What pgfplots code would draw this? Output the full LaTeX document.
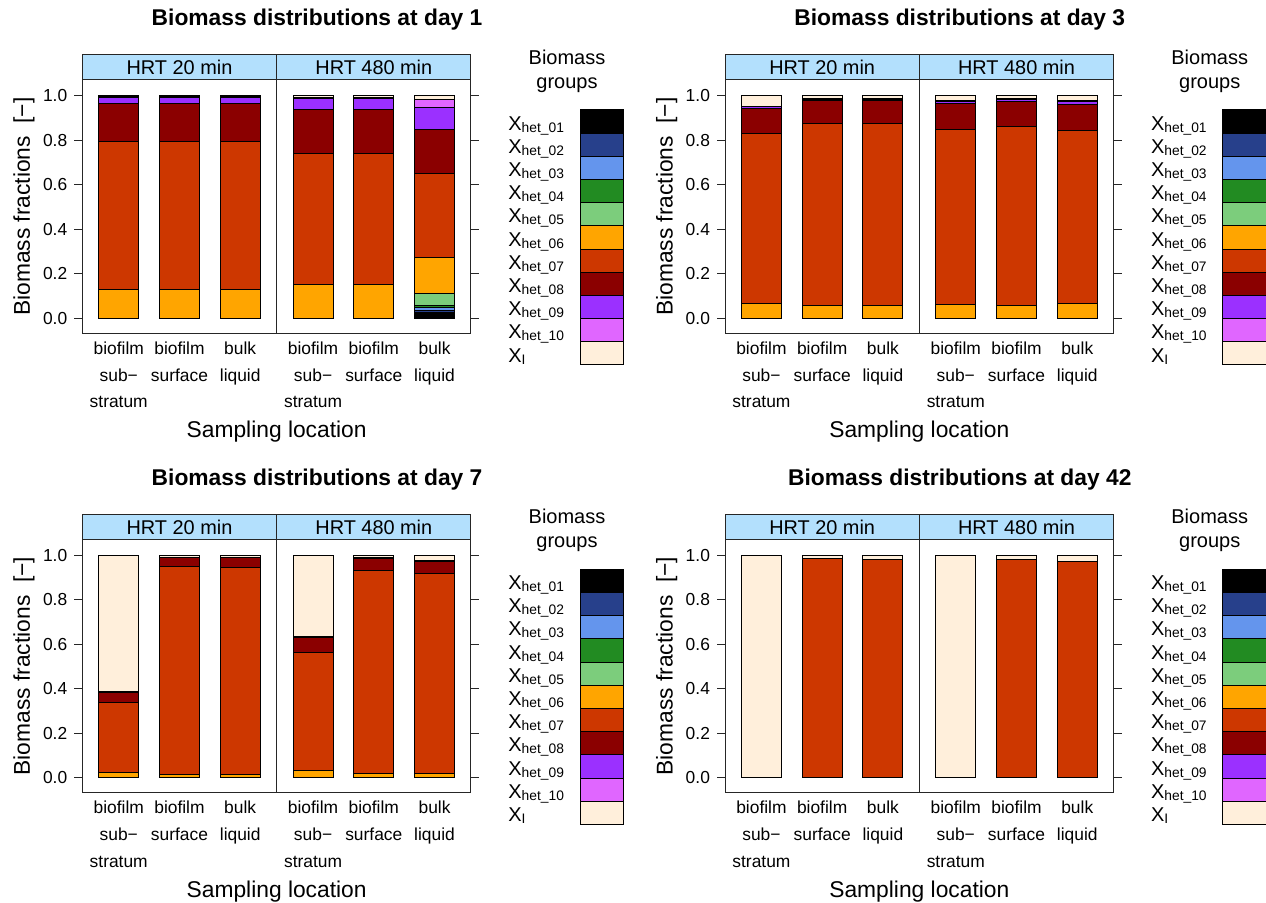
\documentclass[border=0pt]{standalone}
\usepackage{fontspec}
\setmainfont{Liberation Sans}
\usepackage{pgfplots}
\usepackage{pgfplotstable}
\pgfplotsset{compat=1.18}

\definecolor{c01}{RGB}{0,0,0}
\definecolor{c02}{RGB}{39,64,139}
\definecolor{c03}{RGB}{100,149,237}
\definecolor{c04}{RGB}{34,139,34}
\definecolor{c05}{RGB}{124,205,124}
\definecolor{c06}{RGB}{255,165,0}
\definecolor{c07}{RGB}{205,55,0}
\definecolor{c08}{RGB}{139,0,0}
\definecolor{c09}{RGB}{155,48,255}
\definecolor{c10}{RGB}{224,102,255}
\definecolor{cXI}{RGB}{255,239,219}
\definecolor{stripc}{RGB}{179,224,253}

\pgfplotstableread{
x   h01   h02   h03   h04   h05   h06   h07   h08   h09   h10   XI
1   0     0     0     0     0     0.128 0.667 0.170 0.027 0.004 0.004
2   0     0     0     0     0     0.128 0.667 0.170 0.027 0.004 0.004
3   0     0     0     0     0     0.128 0.667 0.170 0.027 0.004 0.004
4.2 0     0     0     0     0     0.153 0.588 0.199 0.048 0.006 0.006
5.2 0     0     0     0     0     0.153 0.588 0.199 0.048 0.006 0.006
6.2 0.027 0.007 0.017 0.009 0.051 0.163 0.377 0.199 0.096 0.039 0.015
}\dayone

\pgfplotstableread{
x   h01   h02   h03   h04   h05   h06   h07   h08   h09   h10   XI
1   0     0     0     0     0     0.067 0.764 0.112 0.007 0.003 0.047
2   0     0     0     0     0     0.057 0.819 0.102 0.006 0.004 0.012
3   0     0     0     0     0     0.057 0.819 0.102 0.007 0.002 0.013
4.2 0     0     0     0     0     0.063 0.783 0.117 0.012 0.004 0.021
5.2 0     0     0     0     0     0.058 0.804 0.113 0.009 0.004 0.012
6.2 0     0     0     0     0     0.066 0.777 0.117 0.012 0.006 0.022
}\daythree

\pgfplotstableread{
x   h01   h02   h03   h04   h05   h06   h07   h08   h09   h10   XI
1   0     0     0     0     0     0.022 0.316 0.045 0.004 0     0.613
2   0     0     0     0     0     0.013 0.935 0.040 0.003 0     0.009
3   0     0     0     0     0     0.013 0.932 0.043 0     0     0.012
4.2 0     0     0     0     0     0.033 0.530 0.067 0.004 0     0.366
5.2 0     0     0     0     0     0.018 0.913 0.054 0.003 0     0.012
6.2 0     0     0     0     0     0.021 0.895 0.057 0.003 0     0.024
}\dayseven

\pgfplotstableread{
x   h01   h02   h03   h04   h05   h06   h07   h08   h09   h10   XI
1   0     0     0     0     0     0     0     0     0     0     1.000
2   0     0     0     0     0     0     0.985 0     0     0     0.015
3   0     0     0     0     0     0     0.982 0     0     0     0.018
4.2 0     0     0     0     0     0     0     0     0     0     1.000
5.2 0     0     0     0     0     0     0.982 0     0     0     0.018
6.2 0     0     0     0     0     0     0.970 0     0     0     0.030
}\dayfortytwo

\newcommand{\stackbars}[1]{%
\addplot[fill=c01] table[x=x,y=h01]{#1};
\addplot[fill=c02] table[x=x,y=h02]{#1};
\addplot[fill=c03] table[x=x,y=h03]{#1};
\addplot[fill=c04] table[x=x,y=h04]{#1};
\addplot[fill=c05] table[x=x,y=h05]{#1};
\addplot[fill=c06] table[x=x,y=h06]{#1};
\addplot[fill=c07] table[x=x,y=h07]{#1};
\addplot[fill=c08] table[x=x,y=h08]{#1};
\addplot[fill=c09] table[x=x,y=h09]{#1};
\addplot[fill=c10] table[x=x,y=h10]{#1};
\addplot[fill=cXI] table[x=x,y=XI]{#1};
}

\newcommand{\keybars}{%
\addplot[fill=cXI] coordinates {(0.5,1)};
\addplot[fill=c10] coordinates {(0.5,1)};
\addplot[fill=c09] coordinates {(0.5,1)};
\addplot[fill=c08] coordinates {(0.5,1)};
\addplot[fill=c07] coordinates {(0.5,1)};
\addplot[fill=c06] coordinates {(0.5,1)};
\addplot[fill=c05] coordinates {(0.5,1)};
\addplot[fill=c04] coordinates {(0.5,1)};
\addplot[fill=c03] coordinates {(0.5,1)};
\addplot[fill=c02] coordinates {(0.5,1)};
\addplot[fill=c01] coordinates {(0.5,1)};
}

% strip above a named panel
\newcommand{\strips}[1]{%
\draw[draw=black!85, fill=stripc, line width=0.5pt] (#1.north west) rectangle ([yshift=12.65pt]#1.north east);
\draw[draw=black!85, line width=0.5pt] (#1.south) -- ([yshift=12.65pt]#1.north);
\node[anchor=base, inner sep=0pt, text=black, font=\fontsize{9.95}{12}\selectfont] at ([xshift=48.59pt,yshift=2.5pt]#1.north west) {HRT 20 min};
\node[anchor=base, inner sep=0pt, text=black, font=\fontsize{9.95}{12}\selectfont] at ([xshift=145.76pt,yshift=2.5pt]#1.north west) {HRT 480 min};
}

\newcommand{\sub}[1]{{\fontsize{6.9}{8}\selectfont\raisebox{-1pt}{#1}}}

\pgfplotsset{
  panel/.style={
    scale only axis, width=194.35pt, height=126.65pt,
    anchor=south west,
    xmin=0.4, xmax=6.8, ymin=-0.067, ymax=1.0705,
    ybar stacked, bar width=0.66,
    clip=false,
    axis line style={line width=0.5pt, black!85},
    xtick={1,2,3,4.2,5.2,6.2},
    xticklabels={{biofilm\\sub−\\stratum},{biofilm\\surface},{bulk\\liquid},{biofilm\\sub−\\stratum},{biofilm\\surface},{bulk\\liquid}},
    xtick style={draw=none},
    xticklabel style={align=center, font=\fontsize{8.7}{13.35}\selectfont, anchor=north, inner sep=0pt, yshift=0pt},
    ytick={0,0.2,0.4,0.6,0.8,1.0},
    ytick pos=both, yticklabel pos=left,
    tick align=outside, major tick length=4pt,
    ytick style={line width=0.5pt, black!85},
    /pgf/number format/assume math mode=true,
    yticklabel style={font=\fontsize{8.7}{10}\selectfont, /pgf/number format/fixed, /pgf/number format/fixed zerofill, /pgf/number format/precision=1},
    ylabel={Biomass fractions\ \ [−]},
    ylabel style={at={(axis description cs:-0.1346,0.5)}, anchor=base, font=\fontsize{11.4}{13}\selectfont},
    xlabel={Sampling location},
    xlabel style={at={(axis description cs:0.5,-0.4133)}, anchor=base, font=\fontsize{11.4}{13}\selectfont},
    every axis title shift=0pt,
    title style={at={(axis description cs:0.604,1.2132)}, anchor=base, yshift=0pt, inner sep=0pt, font=\bfseries\fontsize{11.4}{13}\selectfont},
    every axis plot/.append style={draw=black, line width=0.5pt},
  },
  key/.style={
    scale only axis, width=21.65pt, height=127.5pt,
    anchor=south west,
    xmin=0, xmax=1, ymin=0, ymax=11,
    ybar stacked, bar width=1,
    clip=false,
    xtick=\empty,
    ytick={0.5,1.5,2.5,3.5,4.5,5.5,6.5,7.5,8.5,9.5,10.5},
    yticklabels={{X\sub{I}},{X\sub{het\_10}},{X\sub{het\_09}},{X\sub{het\_08}},{X\sub{het\_07}},{X\sub{het\_06}},{X\sub{het\_05}},{X\sub{het\_04}},{X\sub{het\_03}},{X\sub{het\_02}},{X\sub{het\_01}}},
    ytick style={draw=none},
    axis line style={draw=none},
    yticklabel style={anchor=west, inner sep=0pt, xshift=-36pt, yshift=-1.95pt, text height=7.2pt, text depth=2.5pt, font=\fontsize{10}{12}\selectfont},
    title={Biomass\\groups},
    every axis title shift=0pt,
    title style={align=center, at={(axis description cs:-0.30,1.2431)}, anchor=north, yshift=-0.8pt, inner sep=0pt, font=\fontsize{10}{12}\selectfont},
    every axis plot/.append style={draw=black, line width=0.5pt},
  },
}

\begin{document}
\begin{tikzpicture}
\useasboundingbox (0,0) rectangle (633pt,-451.5pt);

\begin{axis}[panel, name=A1, at={(41.15pt,-166.65pt)}, title={Biomass distributions at day 1}]
\stackbars{\dayone}
\end{axis}
\strips{A1}
\begin{axis}[key, at={(290pt,-182.5pt)}]
\keybars
\end{axis}

\begin{axis}[panel, name=A2, at={(362.5pt,-166.65pt)}, title={Biomass distributions at day 3}]
\stackbars{\daythree}
\end{axis}
\strips{A2}
\begin{axis}[key, at={(611.35pt,-182.5pt)}]
\keybars
\end{axis}

\begin{axis}[panel, name=A3, at={(41.15pt,-396.35pt)}, title={Biomass distributions at day 7}]
\stackbars{\dayseven}
\end{axis}
\strips{A3}
\begin{axis}[key, at={(290pt,-412.2pt)}]
\keybars
\end{axis}

\begin{axis}[panel, name=A4, at={(362.5pt,-396.35pt)}, title={Biomass distributions at day 42}]
\stackbars{\dayfortytwo}
\end{axis}
\strips{A4}
\begin{axis}[key, at={(611.35pt,-412.2pt)}]
\keybars
\end{axis}

\end{tikzpicture}
\end{document}
